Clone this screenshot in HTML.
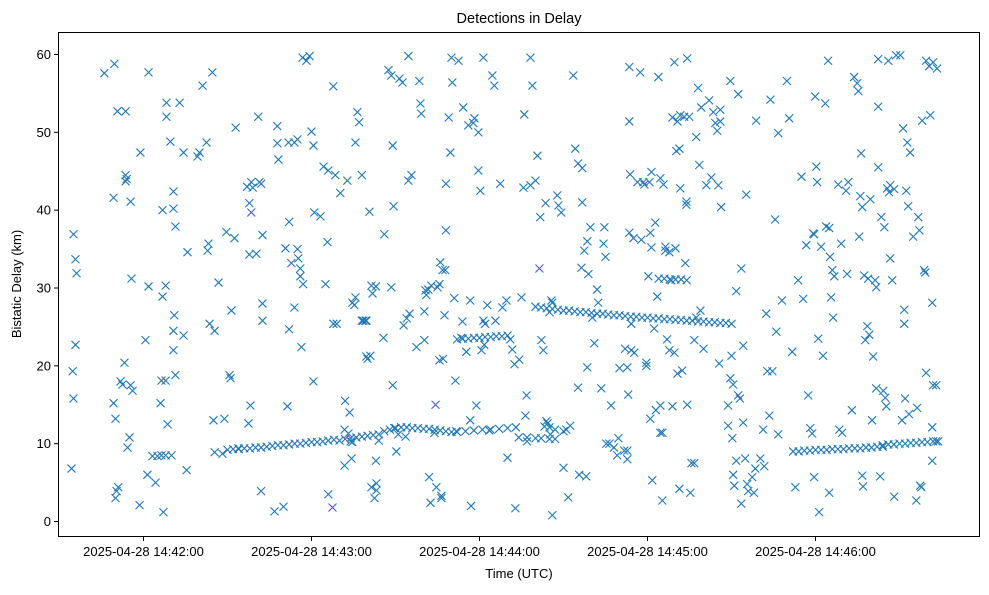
<!DOCTYPE html>
<html><head><meta charset="utf-8"><style>
body{margin:0;background:#fff;width:989px;height:590px;overflow:hidden}
svg text{font-family:"Liberation Sans","DejaVu Sans",sans-serif;fill:#000}
</style></head><body>
<svg id="chart" width="989" height="590" viewBox="0 0 989 590" xmlns="http://www.w3.org/2000/svg">
<rect x="0" y="0" width="989" height="590" fill="#fff"/>
<text x="519" y="23" text-anchor="middle" font-size="14.5">Detections in Delay</text>
<text x="519" y="578" text-anchor="middle" font-size="13">Time (UTC)</text>
<text x="0" y="0" transform="translate(21,284) rotate(-90)" text-anchor="middle" font-size="13">Bistatic Delay (km)</text>
<g id="marks"></g>
<g id="axes"></g>
<rect x="58.5" y="32.5" width="921" height="504" fill="none" stroke="#000" stroke-width="1"/>
</svg>
<script>
// seconds relative to 2025-04-28 14:42:00 UTC
const xTickSeconds = [0, 60, 120, 180, 240];
const xTickLabels = ["2025-04-28 14:42:00","2025-04-28 14:43:00","2025-04-28 14:44:00","2025-04-28 14:45:00","2025-04-28 14:46:00"];
const yTickValues = [0, 10, 20, 30, 40, 50, 60];
const scatterTimes = [-25.7,-25.3,-25,-25,-24.3,-23.9,-24.3,-14,-10.4,-9.3,-6.4,-10.7,-10.7,-10,-9.6,-10,-9,-8.2,-6.8,-7.5,-6.4,-6.4,-6,-4.6,-5,-5.7,-4.3,-4.6,-3.9,-1.1,-1.4,0.7,1.8,1.8,1.4,3.2,5,6.4,7.9,10,4.3,6.8,6.8,7.9,8.2,8.2,7.9,6.4,6.1,7.1,8.6,9.6,10.7,11.4,10.7,10.7,11.4,10.7,11,12.9,14.3,15.7,15.4,14.3,19.3,20,21.1,22.5,23.2,23.6,22.9,24.6,25.4,25.4,25,26.8,28.2,28.9,29.6,30.7,31.1,31.4,32.5,32.9,33.9,
37,38.5,38.5,39,41.4,42,41,42,42.5,42.5,42.5,37.8,37.8,38.2,37.5,40.3,47.8,46.8,47.8,48.2,50,50.7,51.4,51.8,52,52,52.8,53.9,53.9,55,55,55.3,56,56,56.4,57,56.8,58.2,59.3,60,60.7,61,60.7,63.2,64.3,65,65.7,66,66,67.5,67.8,67.8,68.5,69,70.3,71.8,71.8,72,72.8,73.6,73.2,74,74.6,74.3,74.6,75.3,75.7,75.7,76.4,77,78,78,78.5,79.3,79.6,79.6,80,81,80.7,81.4,81.8,81.4,82.5,83.2,83.2,84,83,83,85.7,86,87.5,88.5,89,89.3,88.5,89,89.6,90.3,91,91.4,92.5,92.9,93.6,94,94.6,94.6,95,95.7,97.5,98.5,98.9,99.2,100.3,100.3,100.7,101,101.7,102,102.5,102.8,103.9,104.3,104.6,105,105.7,105.7,106,106.4,106.8,106.4,107,107.5,107.8,108,108,109,
109.6,110,110.3,111,111.4,111.7,112.5,113.5,113.9,114.2,115.3,116,116.7,116.7,117,117.8,118.2,118.9,119.6,120.3,119.6,120.7,121.4,121.4,121.7,122,122.8,123.5,124.6,125.3,125.7,127.4,128.2,129.6,130,131,131.7,132.5,132.8,134.2,135,135.7,136,136.4,136.8,137,138.2,138.2,138.9,140,140.7,141.4,141.7,142.1,142.8,143.2,143.6,143.9,144.3,145,145,145.3,145.7,146,146,147,147.8,148.2,149.2,150,150,151,151.7,152.4,153.5,154.2,155.2,155.2,155.6,156.4,156.7,156.7,157.4,158.1,158.5,158.5,158.9,159.6,160.3,161,162,162.4,163.5,164.3,164.6,165,165.3,166.4,167,168,169.2,169.6,170,171.7,172,172.8,172.8,173.1,172.8,173.5,173.5,173.5,173.8,174.2,174.2,175,175.3,176.4,177.4,177.8,178.5,178.9,179.6,179.6,180.3,180.7,181,181,181.4,181.4,181.7,182.4,182.8,183,183.5,183.9,184.6,184.6,184.6,185.3,185.3,185.7,186.4,186.4,187,187.8,187.8,188.5,188.9,188.9,189.6,189.6,190,190.3,190.7,190.7,191.4,191.4,191.7,191.7,192.4,193.1,193.5,193.9,193.9,194.2,194.2,194.9,195.3,195.7,196.7,196.7,197.4,197.4,198.1,198.5,198.9,199.2,200,201,202,202.8,203.5,204.2,204.9,205.3,205.6,206,206,206.3,208.8,208.8,209.6,209.6,210,210.3,210.6,210.6,211,211.7,211.7,212.4,212.4,213,213.5,213.5,214.2,214.2,214.9,215.3,215.6,216,217.4,218,218.5,218.8,220.3,221.3,221.7,222.4,222.8,223.5,223.9,224.6,225.6,226,226.7,226.7,228,229.8,230.6,231.7,232.8,233.8,235,235.6,236.7,237.4,238.1,238.8,239.2,239.5,239.5,239.9,240.3,240.6,241,241.3,242,242.7,243.5,243.8,244.5,244.9,244.9,245.2,245.6,246,246.3,246.7,248.1,248.5,249.2,249.5,250.9,251.3,251.7,253,253.8,254.9,255.3,255.6,256,256.3,256.7,256.7,257,257.4,257.8,258.5,258.8,259.2,259.6,260.2,260.6,261.3,261.7,261.7,262.4,262.4,262.4,263.1,263.5,264.2,264.6,264.9,265.3,265.6,266,266.3,266.7,266.7,267.4,268.1,268.1,268.8,270.3,270.9,271.3,271.7,271.7,272,272.4,272.8,273.1,273.4,273.8,274.9,276,276.3,276.7,277.1,277.4,277.8,278.1,278.8,279.2,279.5,279.5,280.6,281,281.7,281.7,281.7,282,282,283.1,283.1,283.8,283.4];
const scatterDelays = [6.8,19.3,15.8,36.9,33.7,31.9,22.7,57.6,58.8,52.7,52.7,41.6,15.2,13.2,3.9,3,4.4,18,20.4,17.6,44.5,43.7,44,41.1,10.8,9.5,31.2,17.5,16.8,47.4,2.1,23.3,57.7,30.2,6,8.4,8.4,8.5,8.5,8.5,5,40,28.9,30.3,52,53.8,18.1,18.1,15.2,1.2,12.5,48.8,40.2,37.9,42.4,24.5,18.8,22,26.5,53.8,47.4,34.6,6.6,23.9,46.9,47.4,56,48.7,35.7,25.4,34.8,57.7,24.5,8.9,13,30.7,8.7,13.2,37.2,18.8,18.4,27.1,36.4,50.6,9.4,
43,39.7,43.6,42.9,43.6,43.4,52,3.9,25.8,28,36.8,40.9,34.3,14.9,12.6,34.4,50.8,1.3,48.6,46.5,1.9,35.1,14.8,48.7,24.7,38.5,33.2,27.5,48.7,35,49.1,33.8,32.5,31.5,22.4,30.5,59.6,59.2,59.8,50.1,48.3,39.7,18,39.2,45.6,30.5,35.9,45.1,3.5,1.8,55.9,25.4,44.5,25.4,42.2,11.8,7.2,15.5,43.8,14,11.3,10.3,10.2,8.1,28.1,27.8,28.8,48.7,52.6,51.3,44.5,25.8,25.8,25.8,25.8,21.2,20.9,21.3,39.8,30.3,29.3,4.4,3,4,4.9,10.4,7.8,30.2,23.6,36.9,58,57.3,48.3,40.5,30.1,17.5,12,9,11.2,56.9,56.4,25.2,10.9,26.1,59.8,43.8,26.7,44.5,22.4,56.6,53.7,52.4,27,23.3,29.7,29.1,29.8,5.7,2.4,30.3,11.4,15,4.4,30.1,30.5,20.7,33.3,3.3,32.3,3,20.9,26.5,32.3,43.4,37.4,51.9,
47.4,59.6,56.4,28.7,18.1,11.6,59.2,23.6,25.7,53.2,21.8,50.9,28.4,13,2,51.2,51.8,14.9,50,42.5,45.1,22,59.6,25.8,22.7,25.4,27.8,11.7,57.3,56,25.8,43.4,27.5,28.4,8.2,23.4,22.1,20.2,1.7,20.8,28.8,42.9,52.3,13.6,16.2,10.3,59.6,43.2,56,43.8,47,32.5,39.1,23.3,22,12.2,40.9,12.9,12.6,26.9,12.1,11.2,28.4,0.8,28.1,11.8,41.9,40.6,39.7,11.6,6.9,11.8,3.1,12.3,57.3,47.9,17.2,46,6,32.6,45.4,41,34.8,5.8,36,19.8,31.8,37.8,26.2,22.9,29.8,28.1,17.1,35.7,37.8,34,10,10,14.9,9.5,8.5,10.7,19.7,9.1,22.2,19.8,8,16.3,9.1,58.4,51.4,37.1,44.6,25.4,22,36.4,21.7,43.6,57.7,36.2,43.6,43.3,20.4,20,31.5,43.6,37.1,13.2,44.9,35.2,5.3,24.8,38.4,14.3,28.9,57.1,44.1,14.9,11.4,2.7,11.4,43.3,35.3,34.8,23.4,22,34.6,31,51.9,14.8,21.7,59,35.1,47.6,51.4,19,47.9,4.2,52.2,42.8,19.4,52,33.2,41.1,40.7,59.5,15,52,3.7,7.5,7.5,23.3,49.4,26.2,55.7,45.8,27.1,53.2,22.2,43.2,54.1,44.2,52.6,51.2,50.2,43.2,20.3,52.9,51.4,40.4,12.3,14.9,56.6,18.4,21.3,10.7,6,17.6,4.6,29.6,7.8,54.9,16.2,15.8,32.5,2.3,22.6,12.7,8.1,42,4.8,3.9,5.7,3.7,6.8,51.5,8.1,11.8,7.1,26.7,19.3,13.6,54.2,19.3,38.8,24.4,49.9,11.2,28.4,56.6,51.8,21.8,4.4,31,44.3,28.6,35.5,16.2,12,11.3,37,36.9,5.7,54.6,45.6,43.6,23.5,1.2,35.3,21.3,53.7,37.9,59.2,37.7,3.7,34,28.8,32.3,26.2,31.5,43.3,11.8,35.7,11.4,42.5,31.8,43.6,14.3,57.1,56.3,55.3,36.6,41.8,47.3,5.9,40.4,4.5,31.6,23.3,25.1,31.2,24,41.4,13,21.2,31,17.1,30.1,45.5,59.4,53.3,5.8,39.1,16.8,37.8,15.9,14.8,42.8,59.2,42.3,43.2,33.8,31,42.7,3.2,59.9,59.9,13,50.5,27.2,25.4,15.8,42.5,48.7,40.5,13.8,47.4,36.6,2.7,14.6,39.1,37.4,4.6,4.4,51.5,32.3,32,59.2,19.1,58.5,52.2,28.1,12.1,7.8,17.5,59,17.5,10.3,10.3,58.2];
// dense track-like runs of detections
const trackTimes = [30,32,34,36,38,40,42,44,46,48,50,52,54,56,58,60,62,64,66,68,
70,72,74,76,78,80,82,84,86,88,90,92,94,96,98,100,102,104,106,108,110,
112,115,118,121,124,127,130,133,134,137,140,142,145,147,
112,114,116,118,120,122,124,126,128,130,
140,142,144,146,148,150,152,154,156,158,160,162,164,166,168,170,172,174,176,178,180,182,184,186,188,190,192,194,196,198,200,202,204,206,208,210,
184,186,188,190,192,194,
232,234,236,238,240,242,244,246,248,250,252,254,256,258,260,262,264,
264,266,268,270,272,274,276,278,280,282];
const trackDelays = [9.2,9.3,9.3,9.4,9.4,9.5,9.5,9.6,9.7,9.8,9.8,9.9,10,10,10.1,10.2,10.2,10.3,10.4,10.5,
10.4,10.6,10.7,10.8,10.9,11,11.1,11.2,11.6,11.8,12,12.1,12.1,12,12,11.9,11.9,11.8,11.7,11.6,11.5,
11.5,11.6,11.7,11.8,11.8,11.9,12,12.1,10.8,10.8,10.7,10.7,10.6,10.6,
23.4,23.5,23.5,23.6,23.6,23.7,23.7,23.8,23.8,23.9,
27.6,27.5,27.4,27.3,27.2,27.1,27.1,27,26.9,26.9,26.8,26.7,26.7,26.6,26.5,26.5,26.4,26.3,26.3,26.2,26.2,26.1,26.1,26,26,25.9,25.9,25.8,25.8,25.7,25.7,25.6,25.6,25.5,25.5,25.4,
31.2,31.2,31.1,31.1,31.1,31,
9,9,9.1,9.1,9.2,9.2,9.2,9.3,9.3,9.3,9.4,9.4,9.4,9.5,9.5,9.6,9.6,
9.8,9.9,9.9,10,10,10.1,10.1,10.2,10.2,10.3];

const NS = "http://www.w3.org/2000/svg";
function xScale(s){ return 143.5 + s * (168 / 60); }
function yScale(km){ return 521.5 - km * (467 / 60); }

const axes = document.getElementById('axes');
xTickSeconds.forEach((s, i) => {
  const x = xScale(s);
  const t = document.createElementNS(NS, 'line');
  t.setAttribute('x1', x); t.setAttribute('x2', x);
  t.setAttribute('y1', 537); t.setAttribute('y2', 541);
  t.setAttribute('stroke', '#000');
  
  
  axes.appendChild(t);
  const l = document.createElementNS(NS, 'text');
  l.setAttribute('x', x); l.setAttribute('y', 556);
  l.setAttribute('text-anchor', 'middle'); l.setAttribute('font-size', '13');
  l.textContent = xTickLabels[i];
  
  
  axes.appendChild(l);
});
yTickValues.forEach(v => {
  const y = yScale(v);
  const t = document.createElementNS(NS, 'line');
  t.setAttribute('x1', 54); t.setAttribute('x2', 58);
  t.setAttribute('y1', y); t.setAttribute('y2', y);
  t.setAttribute('stroke', '#000');
  
  
  axes.appendChild(t);
  const l = document.createElementNS(NS, 'text');
  l.setAttribute('x', 51); l.setAttribute('y', y + 4.5);
  l.setAttribute('text-anchor', 'end'); l.setAttribute('font-size', '13');
  l.textContent = String(v);
  
  
  axes.appendChild(l);
});

const marks = document.getElementById('marks');
function drawX(s, km){
  const x = xScale(s), y = yScale(km), r = 4;
  const p = document.createElementNS(NS, 'path');
  p.setAttribute('d', `M${x-r},${y-r}L${x+r},${y+r}M${x-r},${y+r}L${x+r},${y-r}`);
  p.setAttribute('stroke', '#1f77b4');
  p.setAttribute('stroke-width', '1.1');
  p.setAttribute('fill', 'none');
  
  
  marks.appendChild(p);
}
scatterTimes.forEach((s, i) => drawX(s, scatterDelays[i]));
trackTimes.forEach((s, i) => drawX(s, trackDelays[i]));
</script>
</body></html>
